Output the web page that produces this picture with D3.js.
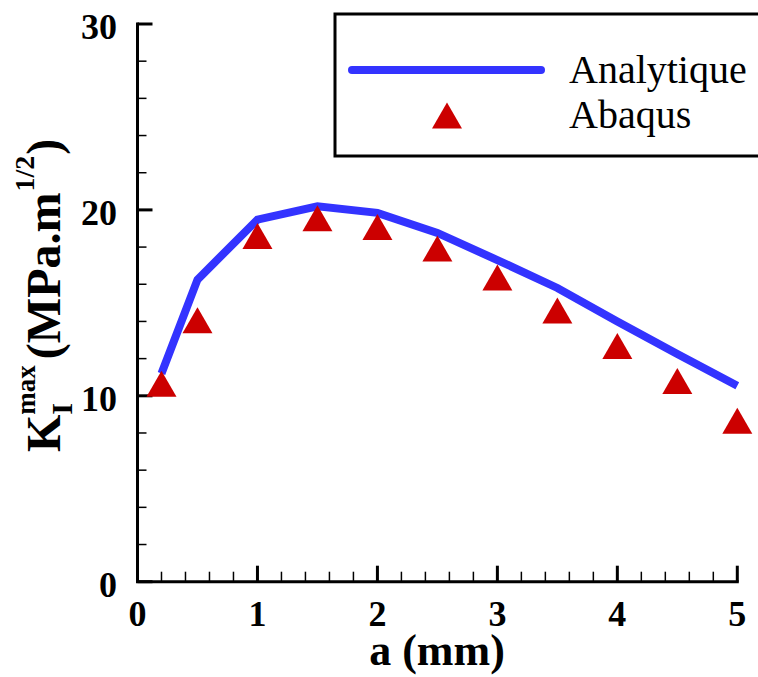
<!DOCTYPE html>
<html>
<head>
<meta charset="utf-8">
<script src="https://cdn.jsdelivr.net/npm/d3@7"></script>
</head>
<body style="margin:0;background:#fff">
<svg id="chart" width="758" height="677" style="display:block"></svg>
<script>
// ---- data ----
const crackLength = [0.2, 0.5, 1, 1.5, 2, 2.5, 3, 3.5, 4, 4.5, 5];
const kAnalytique = [11.2, 16.25, 19.48, 20.19, 19.84, 18.76, 17.3, 15.8, 14.0, 12.25, 10.54];
const kAbaqus = [10.65, 14.07, 18.6, 19.55, 19.08, 17.92, 16.37, 14.59, 12.68, 10.79, 8.66];
const xMajorTicks = [0, 1, 2, 3, 4, 5];
const yMajorTicks = [0, 10, 20, 30];
const seriesNames = ["Analytique", "Abaqus"];

const FONT = "'Liberation Serif', 'Times New Roman', serif";
const svg = d3.select("#chart");
const x = d3.scaleLinear().domain([0, 5]).range([137.5, 737.3]);
const y = d3.scaleLinear().domain([0, 30]).range([581.7, 24]);

const blue = "#3333ff", red = "#cc0000";

// ---- axes ----
const ax = svg.append("g");
const xMinor = d3.range(0, 5.0001, 0.2).filter(v => Math.abs(v - Math.round(v)) > 1e-6);
const yMinor = d3.range(0, 30.0001, 2).filter(v => v % 10 !== 0);

ax.selectAll(".xminor").data(xMinor).join("line")
  .attr("x1", d => x(d)).attr("x2", d => x(d))
  .attr("y1", y(0)).attr("y2", y(0) - 10)
  .attr("stroke", "#000").attr("stroke-width", 1.5);
ax.selectAll(".xmajor").data(xMajorTicks).join("line")
  .attr("x1", d => x(d)).attr("x2", d => x(d))
  .attr("y1", y(0)).attr("y2", y(0) - 16)
  .attr("stroke", "#000").attr("stroke-width", 3);
ax.selectAll(".yminor").data(yMinor).join("line")
  .attr("y1", d => y(d)).attr("y2", d => y(d))
  .attr("x1", x(0)).attr("x2", x(0) + 9)
  .attr("stroke", "#000").attr("stroke-width", 1.5);
ax.selectAll(".ymajor").data(yMajorTicks).join("line")
  .attr("y1", d => y(d)).attr("y2", d => y(d))
  .attr("x1", x(0)).attr("x2", x(0) + 15)
  .attr("stroke", "#000").attr("stroke-width", 3);

ax.append("path")
  .attr("d", `M${x(0)},${y(30)}V${y(0)}H${x(5)}`)
  .attr("fill", "none").attr("stroke", "#000").attr("stroke-width", 3)
  .attr("stroke-linecap", "square");

ax.selectAll(".xlab").data(xMajorTicks).join("text")
  .attr("x", d => x(d)).attr("y", y(0) + 44)
  .attr("text-anchor", "middle")
  .style("font-family", FONT)
  .style("font-size", "36px").style("font-weight", "bold")
  .text(d => d);
ax.selectAll(".ylab").data(yMajorTicks).join("text")
  .attr("x", 117).attr("y", d => y(d) + 15)
  .attr("text-anchor", "end")
  .style("font-family", FONT)
  .style("font-size", "36px").style("font-weight", "bold")
  .text(d => d);

// axis titles
svg.append("text").attr("x", 437).attr("y", 665)
  .attr("text-anchor", "middle")
  .style("font-family", FONT)
  .style("font-size", "44px").style("font-weight", "bold")
  .text("a (mm)");

const yt = svg.append("g").attr("transform", "translate(60,452) rotate(-90)");
const mk = (txt, xx, yy, fs) => yt.append("text").attr("x", xx).attr("y", yy)
  .style("font-family", FONT).style("font-size", fs + "px").style("font-weight", "bold").text(txt);
const tK = mk("K", 0, 0, 48);
const wK = tK.node().getComputedTextLength();
const tI = mk("I", wK, 12, 30);
const tMax = mk("max", wK, -25, 27);
const w1 = Math.max(tI.node().getComputedTextLength(), tMax.node().getComputedTextLength());
const tU = mk("(MPa.m", wK + w1 + 6, 0, 48);
const wU = tU.node().getComputedTextLength();
const tHalf = mk("1/2", wK + w1 + 6 + wU + 1, -26, 28);
const wH = tHalf.node().getComputedTextLength();
mk(")", wK + w1 + 6 + wU + wH + 2, 0, 48);

// ---- series ----
const pts = crackLength.map((a, i) => [a, kAnalytique[i]]);
svg.append("path").datum(pts)
  .attr("d", d3.line().x(d => x(d[0])).y(d => y(d[1])))
  .attr("fill", "none").attr("stroke", blue).attr("stroke-width", 8)
  .attr("stroke-linejoin", "miter").attr("stroke-linecap", "butt");

const tri = (cx, cy) => `M${cx},${cy - 13}L${cx + 15},${cy + 13}L${cx - 15},${cy + 13}Z`;
svg.selectAll(".tri").data(crackLength.map((a, i) => [a, kAbaqus[i]])).join("path")
  .attr("d", d => tri(x(d[0]), y(d[1])))
  .attr("fill", red);

// ---- legend ----
const lg = svg.append("g");
lg.append("rect").attr("x", 335).attr("y", 14).attr("width", 440).attr("height", 142)
  .attr("fill", "#fff").attr("stroke", "#000").attr("stroke-width", 3);
lg.append("line").attr("x1", 352).attr("x2", 541).attr("y1", 70).attr("y2", 70)
  .attr("stroke", blue).attr("stroke-width", 8).attr("stroke-linecap", "round");
lg.append("path").attr("d", tri(447, 115.5)).attr("fill", red);
lg.selectAll(".lt").data(seriesNames).join("text")
  .attr("x", 569).attr("y", (d, i) => 83 + i * 45)
  .style("font-family", FONT)
  .style("font-size", "40px")
  .text(d => d);
</script>
</body>
</html>
